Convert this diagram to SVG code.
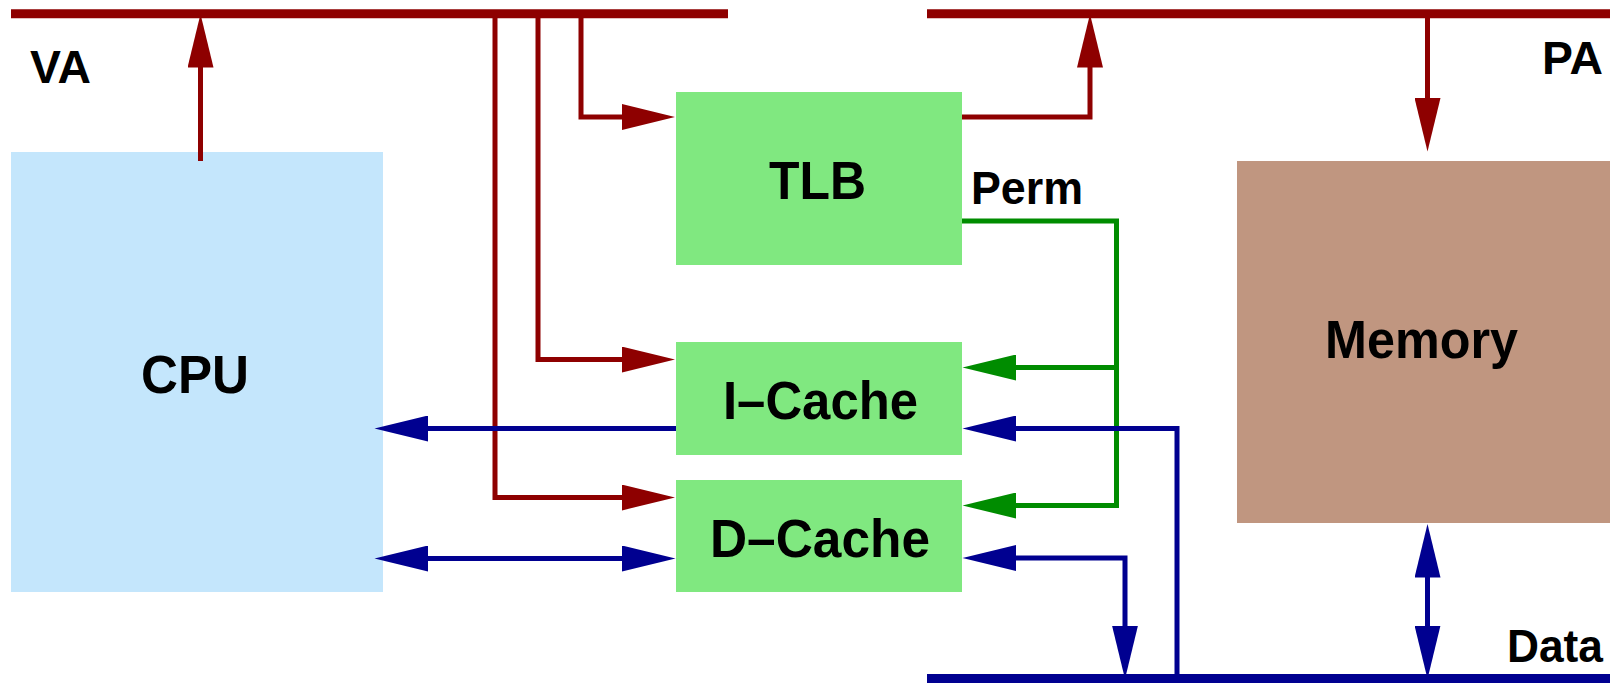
<svg xmlns="http://www.w3.org/2000/svg" width="1610" height="683" viewBox="0 0 1610 683">
<style>
  .lbl { font-family: "Liberation Sans", Arial, Helvetica, sans-serif; font-weight: bold; fill: #000; }
  .big { font-size: 54px; }
  .small { font-size: 46px; }
  .red { stroke: #8e0000; fill: none; stroke-width: 5; }
  .grn { stroke: #008c00; fill: none; stroke-width: 5; }
  .blu { stroke: #000090; fill: none; stroke-width: 5; }
  .bus { stroke-width: 9; fill: none; }
</style>
<defs>
  <marker id="ar" viewBox="0 0 54 26" refX="0.5" refY="13" markerWidth="54" markerHeight="26" markerUnits="userSpaceOnUse" orient="auto-start-reverse">
    <path d="M0,0 L53.5,13 L0,26 z" fill="#8e0000"/>
  </marker>
  <marker id="ag" viewBox="0 0 54 26" refX="0.5" refY="13" markerWidth="54" markerHeight="26" markerUnits="userSpaceOnUse" orient="auto-start-reverse">
    <path d="M0,0 L53.5,13 L0,26 z" fill="#008c00"/>
  </marker>
  <marker id="ab" viewBox="0 0 54 26" refX="0.5" refY="13" markerWidth="54" markerHeight="26" markerUnits="userSpaceOnUse" orient="auto-start-reverse">
    <path d="M0,0 L53.5,13 L0,26 z" fill="#000090"/>
  </marker>
</defs>
<rect width="1610" height="683" fill="#ffffff"/>

<g id="buses">
  <g id="va-bus">
    <line class="bus" x1="11" y1="13.7" x2="728" y2="13.7" stroke="#8e0000"/>
    <text class="lbl small" x="30" y="83" textLength="61" lengthAdjust="spacingAndGlyphs">VA</text>
  </g>
  <g id="pa-bus">
    <line class="bus" x1="927" y1="13.7" x2="1610" y2="13.7" stroke="#8e0000"/>
    <text class="lbl small" x="1542" y="74" textLength="61" lengthAdjust="spacingAndGlyphs">PA</text>
  </g>
  <g id="data-bus">
    <line class="bus" x1="927" y1="678.5" x2="1610" y2="678.5" stroke="#000090"/>
    <text class="lbl small" x="1507" y="662" textLength="96" lengthAdjust="spacingAndGlyphs">Data</text>
  </g>
</g>

<g id="cpu">
  <rect x="11" y="152" width="372" height="440" fill="#c4e6fc"/>
  <text class="lbl big" x="141" y="393" textLength="108" lengthAdjust="spacingAndGlyphs">CPU</text>
</g>
<g id="tlb">
  <rect x="676" y="92" width="286" height="173" fill="#80e880"/>
  <text class="lbl big" x="769" y="199" textLength="97" lengthAdjust="spacingAndGlyphs">TLB</text>
</g>
<g id="icache">
  <rect x="676" y="342" width="286" height="113" fill="#80e880"/>
  <text class="lbl big" x="723" y="419" textLength="195" lengthAdjust="spacingAndGlyphs">I–Cache</text>
</g>
<g id="dcache">
  <rect x="676" y="480" width="286" height="112" fill="#80e880"/>
  <text class="lbl big" x="710" y="557" textLength="220" lengthAdjust="spacingAndGlyphs">D–Cache</text>
</g>
<g id="memory">
  <rect x="1237" y="161" width="373" height="362" fill="#c09680"/>
  <text class="lbl big" x="1325" y="358" textLength="193" lengthAdjust="spacingAndGlyphs">Memory</text>
</g>

<g id="connectors">
  <!-- red: virtual address -->
  <path class="red" d="M200.5,161 V67" marker-end="url(#ar)"/>
  <path class="red" d="M581,14 V117 H622" marker-end="url(#ar)"/>
  <path class="red" d="M538,14 V359.5 H622" marker-end="url(#ar)"/>
  <path class="red" d="M495,14 V497.5 H622" marker-end="url(#ar)"/>
  <!-- red: physical address -->
  <path class="red" d="M962,117 H1090 V67" marker-end="url(#ar)"/>
  <path class="red" d="M1427.5,14 V98.5" marker-end="url(#ar)"/>
  <!-- green: permissions -->
  <path class="grn" d="M962,221 H1116.5 V505.5 H1015.5" marker-end="url(#ag)"/>
  <path class="grn" d="M1116.5,367.5 H1015.5" marker-end="url(#ag)"/>
  <text id="perm-label" class="lbl small" x="971" y="204" textLength="112" lengthAdjust="spacingAndGlyphs">Perm</text>
  <!-- blue: data -->
  <path class="blu" d="M676,428.5 H427.5" marker-end="url(#ab)"/>
  <path class="blu" d="M427.5,558.5 H622.5" marker-start="url(#ab)" marker-end="url(#ab)"/>
  <path class="blu" d="M1177,678 V428.5 H1015.5" marker-end="url(#ab)"/>
  <path class="blu" d="M1015.5,558 H1125 V626" marker-start="url(#ab)" marker-end="url(#ab)"/>
  <path class="blu" d="M1427.5,577 V626" marker-start="url(#ab)" marker-end="url(#ab)"/>
</g>
</svg>
